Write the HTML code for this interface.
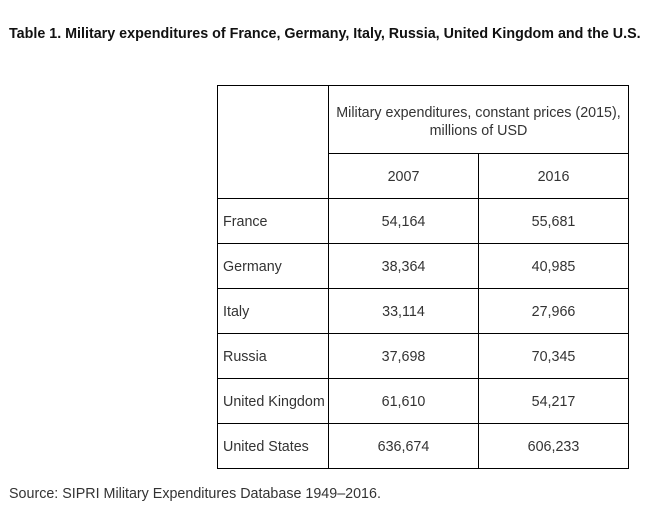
<!DOCTYPE html>
<html><head><style>
body{margin:0;width:670px;height:517px;background:#fff;font-family:"Liberation Sans",Arial,sans-serif;color:#333;position:relative;overflow:hidden}
.t{position:absolute;white-space:nowrap}
.h{position:absolute;background:#000;height:1px}
.v{position:absolute;background:#000;width:1px}
.c{position:absolute;text-align:center;font-size:14.3px}
.l{position:absolute;font-size:14.3px;left:223px}
</style></head><body>
<div class="t" style="left:9px;top:26px;font-size:14.3px;font-weight:bold;color:#111">Table 1. Military expenditures of France, Germany, Italy, Russia, United Kingdom and the U.S.</div>
<div class="h" style="left:217px;width:412px;top:85px"></div>
<div class="h" style="left:328px;width:301px;top:153px"></div>
<div class="h" style="left:217px;width:412px;top:198px"></div>
<div class="h" style="left:217px;width:412px;top:243px"></div>
<div class="h" style="left:217px;width:412px;top:288px"></div>
<div class="h" style="left:217px;width:412px;top:333px"></div>
<div class="h" style="left:217px;width:412px;top:378px"></div>
<div class="h" style="left:217px;width:412px;top:423px"></div>
<div class="h" style="left:217px;width:412px;top:468px"></div>
<div class="v" style="left:217px;top:85px;height:384px"></div>
<div class="v" style="left:328px;top:85px;height:384px"></div>
<div class="v" style="left:478px;top:153px;height:316px"></div>
<div class="v" style="left:628px;top:85px;height:384px"></div>
<div class="c" style="left:329px;width:299px;top:104px;line-height:18px">Military expenditures, constant prices (2015),<br>millions of USD</div>
<div class="c" style="left:329px;width:149px;top:169px">2007</div>
<div class="c" style="left:479px;width:149px;top:169px">2016</div>
<div class="l" style="top:214px">France</div>
<div class="c" style="left:329px;width:149px;top:214px">54,164</div>
<div class="c" style="left:479px;width:149px;top:214px">55,681</div>
<div class="l" style="top:259px">Germany</div>
<div class="c" style="left:329px;width:149px;top:259px">38,364</div>
<div class="c" style="left:479px;width:149px;top:259px">40,985</div>
<div class="l" style="top:304px">Italy</div>
<div class="c" style="left:329px;width:149px;top:304px">33,114</div>
<div class="c" style="left:479px;width:149px;top:304px">27,966</div>
<div class="l" style="top:349px">Russia</div>
<div class="c" style="left:329px;width:149px;top:349px">37,698</div>
<div class="c" style="left:479px;width:149px;top:349px">70,345</div>
<div class="l" style="top:394px">United Kingdom</div>
<div class="c" style="left:329px;width:149px;top:394px">61,610</div>
<div class="c" style="left:479px;width:149px;top:394px">54,217</div>
<div class="l" style="top:439px">United States</div>
<div class="c" style="left:329px;width:149px;top:439px">636,674</div>
<div class="c" style="left:479px;width:149px;top:439px">606,233</div>
<div class="t" style="left:9px;top:486px;font-size:14.3px">Source: SIPRI Military Expenditures Database 1949–2016.</div>
</body></html>
